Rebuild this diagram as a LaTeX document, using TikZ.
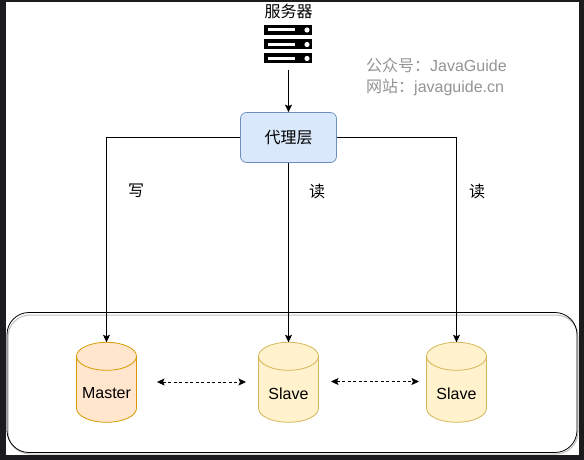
\documentclass[tikz,border=0pt]{standalone}
\usepackage{fontspec}
\setmainfont{Liberation Sans}
\newfontfamily\cjk{Noto Sans CJK SC}
\usetikzlibrary{arrows.meta}
\definecolor{frameDark}{HTML}{1C1C1E}
\definecolor{proxyFill}{HTML}{DAE8FC}
\definecolor{proxyLine}{HTML}{6C8EBF}
\definecolor{masterFill}{HTML}{FFE6CC}
\definecolor{masterLine}{HTML}{D79B00}
\definecolor{slaveFill}{HTML}{FFF2CC}
\definecolor{slaveLine}{HTML}{D6B656}
\tikzset{
  link/.style={draw=black,line width=.9pt,-{Stealth[length=7.5pt,width=7pt,inset=1.5pt]}},
  sync/.style={draw=black,line width=.8pt,dash pattern=on 3pt off 2.5pt,{Stealth[length=7.5pt,width=7pt,inset=1.5pt]}-{Stealth[length=7.5pt,width=7pt,inset=1.5pt]}},
  db/.style={minimum width=60pt,minimum height=80pt,inner sep=0pt,outer sep=0pt},
  master/.style={draw=masterLine,fill=masterFill,line width=.8pt},
  slave/.style={draw=slaveLine,fill=slaveFill,line width=.8pt},
  dblabel/.style={font=\fontsize{16}{18}\selectfont,text=black},
  tag/.style={font=\cjk\fontsize{16}{18}\selectfont,text=black},
  mark text/.style={font=\fontsize{16}{18}\selectfont,text=black!42,anchor=west,inner sep=0pt}
}
\begin{document}
\begin{tikzpicture}[x=1pt,y=-1pt]
  \useasboundingbox (0,0) rectangle (584,460);
  \fill[white] (0,0) rectangle (584,460);
  % window edges
  \fill[frameDark] (0,0) rectangle (584,2);
  \fill[frameDark] (0,0) rectangle (6,460);
  \fill[frameDark] (0,455) rectangle (584,460);
  \fill[frameDark] (579,0) rectangle (584,460);

  % outer box
  \draw[black!25,line width=1pt,rounded corners=22pt] (8,315) rectangle (578,454);
  \node[draw=black,line width=.8pt,rounded corners=22pt,minimum width=570pt,minimum height=140pt,inner sep=0pt] (box) at (292,382.5) {};

  % server
  \node[font=\cjk\fontsize{16}{18}\selectfont,inner sep=0pt] (server) at (288.5,11) {服务器};
  \foreach \y in {25,39.5,53.5}{
    \fill[black] (264,\y) rectangle (312,\y+10);
    \fill[white] (267.5,\y+3.5) rectangle (295,\y+6.5);
    \fill[white] (307,\y+5) circle (2.6);
  }
  \coordinate (icon) at (288.5,70);

  \node[draw=proxyLine,fill=proxyFill,rounded corners=6pt,line width=.7pt,minimum width=96pt,minimum height=50pt,font=\cjk\fontsize{16}{18}\selectfont,inner sep=0pt] (proxy) at (288.5,137.5) {代理层};

  \node[db] (n1) at (106.5,382.3) {};
  \node[db] (n2) at (288.5,382.3) {};
  \node[db] (n3) at (456.5,382.3) {};
  \foreach \name/\kind in {n1/master,n2/slave,n3/slave}{
    \draw[\kind,shift={(\name.center)}] (-30,-26) arc[start angle=180,end angle=0,x radius=30pt,y radius=14pt] -- (30,26) arc[start angle=0,end angle=-180,x radius=30pt,y radius=14pt] -- cycle;
    \draw[\kind,fill=none,shift={(\name.center)}] (-30,-26) arc[start angle=180,end angle=360,x radius=30pt,y radius=14pt];
  }
  \node[dblabel] (l1) at (106.5,393.5) {Master};
  \node[dblabel] (l2) at (288.5,393.5) {Slave};
  \node[dblabel] (l3) at (456.5,393.5) {Slave};

  \draw[link] (icon) -- (proxy);
  \draw[link] (proxy.west) -| (n1.north);
  \draw[link] (proxy) -- (n2.north);
  \draw[link] (proxy.east) -| (n3.north);

  \coordinate (a1) at (157,382);
  \coordinate (a2) at (246,382);
  \coordinate (b1) at (331,381.5);
  \coordinate (b2) at (419,381.5);
  \draw[sync] (a1) -- (a2);
  \draw[sync] (b1) -- (b2);

  \node[tag] (w) at (136,191) {写};
  \node[tag] (r1) at (317,191) {读};
  \node[tag] (r2) at (477,191) {读};

  \node[mark text] (m1) at (366,65) {{\cjk 公众号：}JavaGuide};
  \node[mark text] (m2) at (366,87.5) {{\cjk 网站：}javaguide.cn};
\end{tikzpicture}
\end{document}
